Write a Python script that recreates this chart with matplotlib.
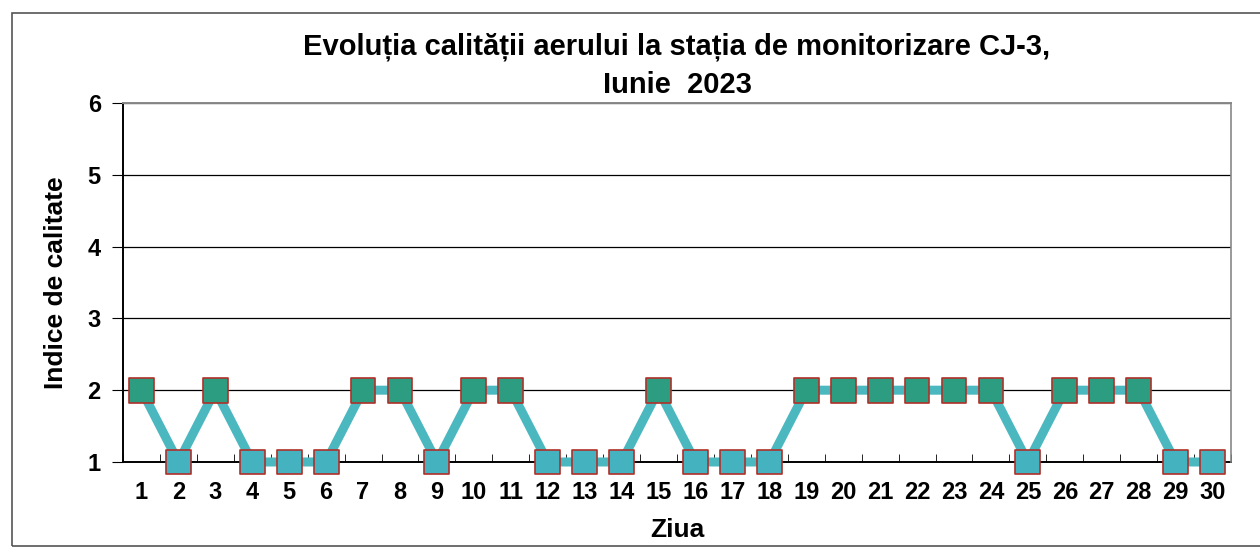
import numpy as np
import matplotlib.pyplot as plt
from matplotlib.patches import Rectangle

# date: ziua din luna si indicele de calitate
zile = list(range(1, 31))
indice = [2, 1, 2, 1, 1, 1, 2, 2, 1, 2,
          2, 1, 1, 1, 2, 1, 1, 1, 2, 2,
          2, 2, 2, 2, 1, 2, 2, 2, 1, 1]

titlu = "Evoluția calității aerului la stația de monitorizare CJ-3,\nIunie  2023"

plt.rcParams['font.family'] = ['Liberation Sans', 'DejaVu Sans']
plt.rcParams['font.weight'] = 'bold'

fig = plt.figure(figsize=(12.6, 5.49), dpi=100)
ax = fig.add_axes([0.0976, 0.1585, 0.8794, 0.6539])

# chenarul exterior
fig.patches.append(Rectangle((12 / 1260, 3 / 549), 1.2, 1 - 16 / 549,
                             transform=fig.transFigure, fill=False,
                             edgecolor='#555555', linewidth=1.2))

# linia de legatura
ax.plot(zile, indice, color='#4bb8c0', linewidth=6.5, zorder=2, clip_on=False)

# markerii, colorati dupa valoare
culori = ['#2c9d80' if v == 2 else '#45b2c0' for v in indice]
ax.scatter(zile, indice, marker='s', s=320, c=culori,
           edgecolors='#b0302a', linewidths=1.2, zorder=3, clip_on=False)

ax.set_xlim(0.5, 30.5)
ax.set_ylim(1, 6)
ax.set_yticks(range(1, 7))
ax.set_xticks(zile)
ax.set_xticks(np.arange(0.5, 31, 1), minor=True)
ax.tick_params(axis='x', which='major', length=0, pad=14, labelsize=17)
ax.tick_params(axis='x', which='minor', length=6, direction='in')
ax.tick_params(axis='y', length=8, direction='out', labelsize=17, pad=8)
ax.yaxis.grid(True, color='black', linewidth=0.9)
ax.set_axisbelow(True)

for s in ['left', 'bottom']:
    ax.spines[s].set_linewidth(1.4)
ax.spines['top'].set_color('#888888')
ax.spines['right'].set_color('#888888')
ax.spines['top'].set_linewidth(1.4)
ax.spines['right'].set_linewidth(1.2)
ax.spines['bottom'].set_zorder(1)

ax.set_xlabel("Ziua", fontsize=19, fontweight='bold', labelpad=10)
ax.set_ylabel("Indice de calitate", fontsize=19, fontweight='bold', labelpad=14)
ax.set_title(titlu, fontsize=21, fontweight='bold', pad=7, linespacing=1.45)

plt.savefig('out.png', dpi=100)
